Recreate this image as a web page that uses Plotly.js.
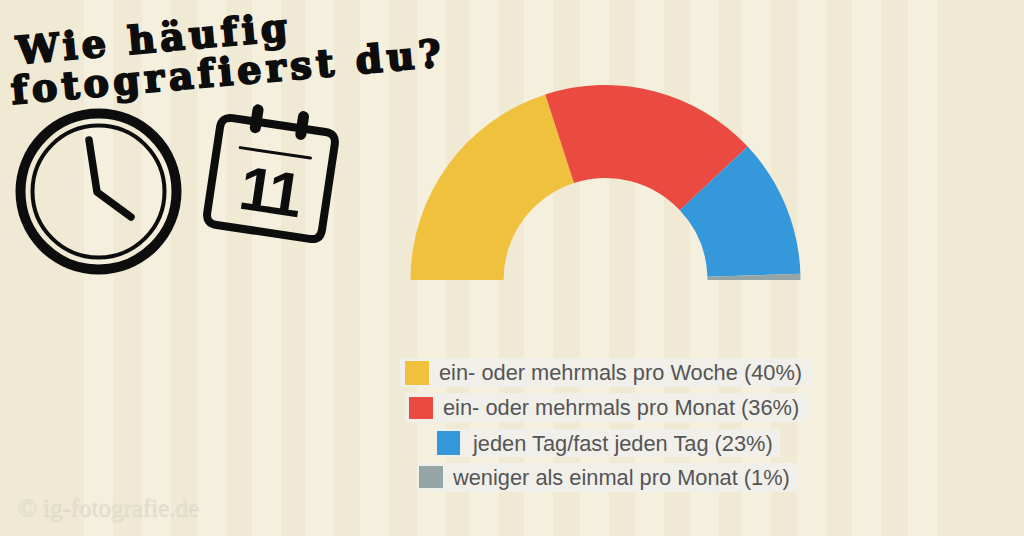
<!DOCTYPE html>
<html>
<head>
<meta charset="utf-8">
<script src="https://cdn.plot.ly/plotly-3.0.1.min.js"></script>
<style>
html,body{margin:0;padding:0;background:#f0e9d4;overflow:hidden}
#chart{width:1024px;height:536px}
.shapelayer path{stroke-linecap:round;stroke-linejoin:round}
.annotation[data-index="0"] text,.annotation[data-index="1"] text{letter-spacing:4.5px;stroke:#0d0d0d;stroke-width:2px}
.annotation[data-index="2"] text{letter-spacing:-3px}
.annotation[data-index="3"] text{text-shadow:1px 1px 1px #d9d5c4}
</style>
</head>
<body>
<div id="chart"></div>
<script>
// Data
const categories = ["ein- oder mehrmals pro Woche","ein- oder mehrmals pro Monat","jeden Tag/fast jeden Tag","weniger als einmal pro Monat"];
const shares = [40,36,23,1];
const colors = ["#efc13d","#ea4a40","#3498db","#95a5a6"];
const titleLines = ["Wie häufig","fotografierst du?"];
const watermark = "© ig-fotografie.de";

// Layout helpers
const W = 1024, H = 536;
const X = x => x / W, Y = y => 1 - y / H;
const stripeStarts = [84,142,197,252,305,360,417,470,524,580,635,690,742,797,852,908];
const stripeWidth = 29;
const shapes = [];

stripeStarts.forEach(s => shapes.push({type:"rect",xref:"paper",yref:"paper",layer:"below",
  x0:X(s),x1:X(s+stripeWidth),y0:0,y1:1,line:{width:0},fillcolor:"#f5f0de"}));

const circle = (cx,cy,r,w) => shapes.push({type:"circle",xref:"paper",yref:"paper",
  x0:X(cx-r),x1:X(cx+r),y0:Y(cy+r),y1:Y(cy-r),line:{color:"#0d0d0d",width:w},fillcolor:"rgba(0,0,0,0)"});
const P = (x,y) => X(x)+","+Y(y);
const stroke = (d,w) => shapes.push({type:"path",xref:"paper",yref:"paper",path:d,
  line:{color:"#0d0d0d",width:w},fillcolor:"rgba(0,0,0,0)"});

// Clock
circle(98.5,191.5,78,10);
circle(98.5,191.5,66,4);
stroke("M"+P(89,140)+" L"+P(97,192)+" L"+P(131,217),7.5);

// Calendar, rotated about its centre
const cx = 271, cy = 178.5, ang = 8.5*Math.PI/180;
const R = (x,y) => P(cx + x*Math.cos(ang) - y*Math.sin(ang), cy + x*Math.sin(ang) + y*Math.cos(ang));
const hw = 58, hh = 54, cr = 11;
stroke("M"+R(-hw+cr,-hh)+" L"+R(hw-cr,-hh)+" Q"+R(hw,-hh)+" "+R(hw,-hh+cr)+
       " L"+R(hw,hh-cr)+" Q"+R(hw,hh)+" "+R(hw-cr,hh)+" L"+R(-hw+cr,hh)+
       " Q"+R(-hw,hh)+" "+R(-hw,hh-cr)+" L"+R(-hw,-hh+cr)+" Q"+R(-hw,-hh)+" "+R(-hw+cr,-hh)+" Z",8);
stroke("M"+R(-23,-66)+" L"+R(-23,-48),11);
stroke("M"+R(23,-66)+" L"+R(23,-48),11);
stroke("M"+R(-35,-26)+" L"+R(36,-26),3);

const annotations = [];
const note = (text,x,y,size,color,family,extra) => annotations.push(Object.assign({
  text,x:X(x),y:Y(y),xref:"paper",yref:"paper",xanchor:"center",yanchor:"middle",showarrow:false,
  font:{size,color,family}},extra||{}));

note("<b>"+titleLines[0]+"</b>",153,38,38,"#0d0d0d","DejaVu Serif",{textangle:-5});
note("<b>"+titleLines[1]+"</b>",228,72,38,"#0d0d0d","DejaVu Serif",{textangle:-5});
note("<b>11</b>",270,191,62,"#0d0d0d","Liberation Sans",{textangle:8.5});
note(watermark,107,507,25,"#e6e2d2","Liberation Serif");

// Legend rows, individually centred as in the reference
const rows = [
  {box:[400,812,358,387],sw:[405,429,361,385],tx:620.5},
  {box:[405,808,393,422],sw:[409,433,397,419],tx:621},
  {box:[435,780,429,457],sw:[437,460,431,455],tx:622.5},
  {box:[417,797,463,492],sw:[419,443,466,488],tx:621}
];
rows.forEach((r,i) => {
  shapes.push({type:"rect",xref:"paper",yref:"paper",x0:X(r.box[0]),x1:X(r.box[1]),y0:Y(r.box[3]),y1:Y(r.box[2]),
    line:{width:0},fillcolor:"#f1efe9"});
  shapes.push({type:"rect",xref:"paper",yref:"paper",x0:X(r.sw[0]),x1:X(r.sw[1]),y0:Y(r.sw[3]),y1:Y(r.sw[2]),
    line:{width:0},fillcolor:colors[i]});
  note(categories[i]+" ("+shares[i]+"%)",r.tx,(r.box[2]+r.box[3])/2,21.8,"#555555","Liberation Sans");
});

const hiddenHalf = shares.reduce((a,b)=>a+b,0);
const trace = {
  type:"pie",
  labels:categories.concat(["hidden"]),
  values:shares.concat([hiddenHalf]),
  sort:false,direction:"clockwise",rotation:270,hole:0.523,
  domain:{x:[X(410.5),X(800.5)],y:[Y(475),Y(85)]},
  marker:{colors:colors.concat(["rgba(0,0,0,0)"]),line:{width:0}},
  textinfo:"none",hoverinfo:"skip",showlegend:false
};
Plotly.newPlot("chart",[trace],{
  width:W,height:H,margin:{l:0,r:0,t:0,b:0},
  paper_bgcolor:"#f0e9d4",plot_bgcolor:"rgba(0,0,0,0)",
  showlegend:false,shapes,annotations
},{displayModeBar:false,staticPlot:true});
</script>
</body>
</html>
